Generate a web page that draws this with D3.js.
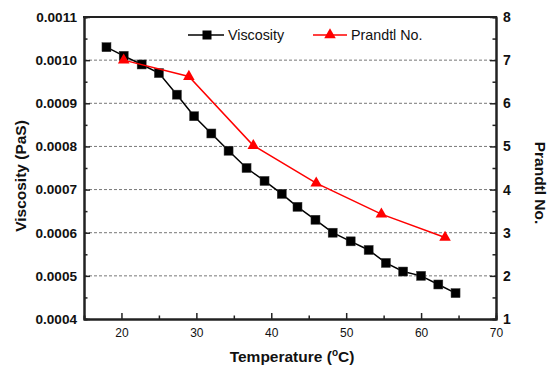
<!DOCTYPE html>
<html><head><meta charset="utf-8">
<script src="https://cdn.jsdelivr.net/npm/d3@7"></script>
<style>body{margin:0;background:#fff}svg{display:block;font-family:"Liberation Sans",Arial,sans-serif}</style>
</head><body><svg id="c" width="548" height="368"></svg>
<script>
const viscTemp = [18.0,20.3,22.7,25.0,27.4,29.7,32.0,34.3,36.7,39.1,41.4,43.5,45.9,48.2,50.6,53.0,55.3,57.6,60.0,62.3,64.6];
const viscosity = [0.00103,0.00101,0.00099,0.00097,0.00092,0.00087,0.00083,0.00079,0.00075,0.00072,0.00069,0.00066,0.00063,0.00060,0.00058,0.00056,0.00053,0.00051,0.00050,0.00048,0.00046];
const prTemp = [20.3,29.0,37.6,46.0,54.7,63.2];
const prandtl = [7.0,6.62,5.02,4.15,3.43,2.89];
const xTicks = [20,30,40,50,60,70];
const yLeftTicks = [0.0004,0.0005,0.0006,0.0007,0.0008,0.0009,0.0010,0.0011];
const yRightTicks = [1,2,3,4,5,6,7,8];
const gridTicks = [0.0005,0.0006,0.0007,0.0008,0.0009,0.0010];

const svg = d3.select("#c");
const L=84,R=496,T=17,B=319;
const x = d3.scaleLinear().domain([15,70]).range([L,R]);
const yL = d3.scaleLinear().domain([0.0004,0.0011]).range([B,T]);
const yR = d3.scaleLinear().domain([1,8]).range([B,T]);
const axisColor="#222";

// grid
svg.append("g").selectAll("line").data(gridTicks).join("line")
  .attr("x1",L).attr("x2",R).attr("y1",d=>yL(d)).attr("y2",d=>yL(d))
  .attr("stroke","#777").attr("stroke-width",1).attr("stroke-dasharray","3,2");

function styleAxis(g){
  g.select(".domain").attr("stroke",axisColor).attr("stroke-width",2);
  g.selectAll(".tick line").attr("stroke",axisColor).attr("stroke-width",1.5);
}
// minor ticks
const xMinor = d3.range(15,70,10).map(d=>d+0).filter(d=>d>15).concat([25,35,45,55,65]).filter((d,i,a)=>a.indexOf(d)===i&&d%10===5);
const gxm = svg.append("g").attr("transform",`translate(0,${B})`)
  .call(d3.axisBottom(x).tickValues(xMinor).tickSize(-3.5).tickFormat(""));
styleAxis(gxm);
const gyLm = svg.append("g").attr("transform",`translate(${L},0)`)
  .call(d3.axisLeft(yL).tickValues(yLeftTicks.slice(0,-1).map(d=>d+0.00005)).tickSize(-3.5).tickFormat(""));
styleAxis(gyLm);
const gyRm = svg.append("g").attr("transform",`translate(${R},0)`)
  .call(d3.axisRight(yR).tickValues(yRightTicks.slice(0,-1).map(d=>d+0.5)).tickSize(-3.5).tickFormat(""));
styleAxis(gyRm);

// major axes
const gx = svg.append("g").attr("transform",`translate(0,${B})`)
  .call(d3.axisBottom(x).tickValues(xTicks).tickSize(-6).tickPadding(9).tickSizeOuter(0));
styleAxis(gx);
gx.selectAll("text").attr("font-size",12).attr("fill","#111").attr("font-family","Liberation Sans, Arial, sans-serif");

const gyL = svg.append("g").attr("transform",`translate(${L},0)`)
  .call(d3.axisLeft(yL).tickValues(yLeftTicks).tickFormat(d3.format(".4f")).tickSize(-6).tickPadding(7).tickSizeOuter(0));
styleAxis(gyL);
gyL.selectAll("text").attr("font-size",13.6).attr("font-weight","bold").attr("fill","#111").attr("font-family","Liberation Sans, Arial, sans-serif");

const gyR = svg.append("g").attr("transform",`translate(${R},0)`)
  .call(d3.axisRight(yR).tickValues(yRightTicks).tickFormat(d3.format("d")).tickSize(-6).tickPadding(7).tickSizeOuter(0));
styleAxis(gyR);
gyR.selectAll("text").attr("font-size",14).attr("font-weight","bold").attr("fill","#111").attr("font-family","Liberation Sans, Arial, sans-serif");

// top border
svg.append("line").attr("x1",L-1).attr("x2",R+1).attr("y1",T).attr("y2",T).attr("stroke",axisColor).attr("stroke-width",2);

// viscosity series
const vData = viscTemp.map((t,i)=>[t,viscosity[i]]);
svg.append("path").datum(vData)
  .attr("d",d3.line().x(d=>x(d[0])).y(d=>yL(d[1])))
  .attr("fill","none").attr("stroke","#000").attr("stroke-width",1.5);
svg.append("g").selectAll("rect").data(vData).join("rect")
  .attr("x",d=>x(d[0])-4.5).attr("y",d=>yL(d[1])-4.5).attr("width",9).attr("height",9)
  .attr("fill","#000").attr("stroke","#333").attr("stroke-width",0.5);

// prandtl series
const pData = prTemp.map((t,i)=>[t,prandtl[i]]);
svg.append("path").datum(pData)
  .attr("d",d3.line().x(d=>x(d[0])).y(d=>yR(d[1])))
  .attr("fill","none").attr("stroke","#ff0000").attr("stroke-width",1.5);
const tri = d3.symbol().type(d3.symbolTriangle).size(58);
svg.append("g").selectAll("path").data(pData).join("path")
  .attr("d",tri).attr("transform",d=>`translate(${x(d[0])},${yR(d[1])})`)
  .attr("fill","#ff0000");

// legend
const lg = svg.append("g");
const ly = 35;
lg.append("line").attr("x1",188).attr("x2",224).attr("y1",ly).attr("y2",ly).attr("stroke","#000").attr("stroke-width",1.5);
lg.append("rect").attr("x",207-4.5).attr("y",ly-4.5).attr("width",9).attr("height",9).attr("fill","#000");
lg.append("text").attr("x",228).attr("y",ly+5).attr("font-size",14.3).attr("fill","#111").text("Viscosity");
lg.append("line").attr("x1",313).attr("x2",347).attr("y1",ly).attr("y2",ly).attr("stroke","#ff0000").attr("stroke-width",1.5);
lg.append("path").attr("d",tri).attr("transform",`translate(330,${ly})`).attr("fill","#ff0000");
lg.append("text").attr("x",351).attr("y",ly+5).attr("font-size",14.3).attr("fill","#111").text("Prandtl No.");

// axis titles
const xt = svg.append("text").attr("x",292).attr("y",362).attr("text-anchor","middle")
  .attr("font-size",15.5).attr("font-weight","bold").attr("fill","#111");
xt.append("tspan").text("Temperature (");
xt.append("tspan").attr("font-size",10).attr("dy",-6).text("o");
xt.append("tspan").attr("dy",6).text("C)");

svg.append("text").attr("transform","translate(26,176) rotate(-90)").attr("text-anchor","middle")
  .attr("font-size",15.5).attr("font-weight","bold").attr("fill","#111").text("Viscosity (PaS)");
svg.append("text").attr("transform","translate(535,183) rotate(90)").attr("text-anchor","middle")
  .attr("font-size",15.5).attr("font-weight","bold").attr("fill","#111").text("Prandtl No.");
</script></body></html>
